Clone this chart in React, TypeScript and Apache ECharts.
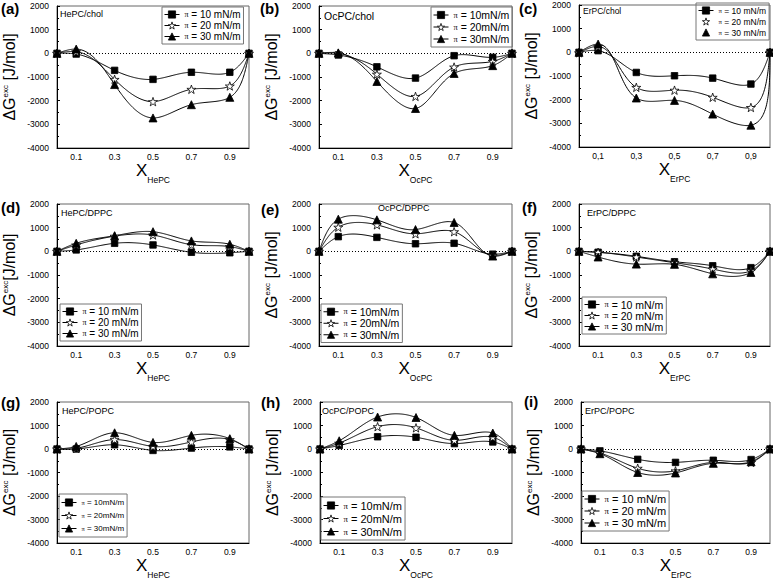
import React, { useEffect, useRef } from 'react';
import * as echarts from 'echarts';

// ---------- data ----------
const X_VALUES = [0, 0.1, 0.3, 0.5, 0.7, 0.9, 1.0];
const X_TICK_LABELS = ['0.1', '0.3', '0.5', '0.7', '0.9'];
const X_TICK_LABELS_COMMA = ['0,1', '0,3', '0,5', '0,7', '0,9'];
const Y_MIN = -4000;
const Y_MAX = 2000;

const NAMES_SPACED = ['π = 10 mN/m', 'π = 20 mN/m', 'π = 30 mN/m'];
const NAMES_TIGHT = ['π = 10mN/m', 'π = 20mN/m', 'π = 30mN/m'];

// (a) HePC/chol
const A_10 = [0, -30, -720, -1100, -800, -800, 0];
const A_20 = [0, 70, -1100, -2040, -1520, -1380, 0];
const A_30 = [0, 180, -1320, -2730, -2170, -1860, 0];
// (b) OcPC/chol
const B_10 = [0, -70, -570, -1045, -100, -170, 0];
const B_20 = [0, 0, -880, -1820, -580, -340, 0];
const B_30 = [0, 20, -1190, -2330, -850, -520, 0];
// (c) ErPC/chol
const C_10 = [0, 70, -850, -990, -1090, -1340, 0];
const C_20 = [-20, 250, -1480, -1600, -1900, -2330, 0];
const C_30 = [0, 350, -1930, -2030, -2610, -3080, 0];
// (d) HePC/DPPC
const D_10 = [0, 60, 340, 270, -40, -60, 0];
const D_20 = [0, 270, 640, 690, 280, 200, 0];
const D_30 = [0, 340, 660, 830, 440, 300, 0];
// (e) OcPC/DPPC
const E_10 = [0, 620, 590, 320, 340, -120, 0];
const E_20 = [0, 1020, 1120, 740, 830, -170, 0];
const E_30 = [0, 1360, 1330, 920, 1220, -200, 0];
// (f) ErPC/DPPC
const F_10 = [0, -40, -210, -440, -610, -690, 0];
const F_20 = [0, -40, -240, -480, -750, -820, 0];
const F_30 = [0, -240, -540, -550, -950, -890, 0];
// (g) HePC/POPC
const G_10 = [0, 0, 180, -60, 40, 90, 0];
const G_20 = [0, 30, 400, 110, 300, 400, 0];
const G_30 = [0, 110, 690, 280, 580, 440, 0];
// (h) OcPC/POPC
const H_10 = [0, 150, 520, 500, 230, 300, 0];
const H_20 = [0, 250, 950, 900, 370, 500, 0];
const H_30 = [0, 350, 1360, 1340, 580, 680, 0];
// (i) ErPC/POPC
const I_10 = [0, -80, -440, -570, -480, -450, 0];
const I_20 = [0, -170, -820, -930, -570, -570, 0];
const I_30 = [0, -200, -1000, -1020, -610, -540, 0];

// ---------- layout / style ----------
const FONT = '"Liberation Sans", Arial, sans-serif';
const SERIF = '"Liberation Serif", "DejaVu Serif", serif';
const STAR = 'path://M50,0 L61.8,35.1 L98.1,35.1 L68.8,56.7 L79.4,90.9 L50,69.8 L20.6,90.9 L31.2,56.7 L1.9,35.1 L38.2,35.1 Z';
const SYMBOLS = [
  { symbol: 'rect', size: 6.5, fill: '#000' },
  { symbol: STAR, size: 9, fill: '#fff' },
  { symbol: 'triangle', size: 8, fill: '#000' },
];

const PANELS = [
  { letter: '(a)', title: 'HePC/chol', sub: 'HePC', series: [A_10, A_20, A_30], names: NAMES_SPACED,
    grid: { left: 57, top: 6, width: 192, height: 142 }, letterPos: [1, 8], titlePos: [60, 14], titleSize: 9,
    legend: { left: 162, top: 7, lh: 11, fs: 10 }, comma: false, markerOnly: false, ySpace: ' ' },
  { letter: '(b)', title: 'OcPC/chol', sub: 'OcPC', series: [B_10, B_20, B_30], names: NAMES_TIGHT,
    grid: { left: 319, top: 6, width: 193, height: 142 }, letterPos: [260, 8], titlePos: [324, 16], titleSize: 10.5,
    legend: { left: 431, top: 7, lh: 12, fs: 10.5 }, comma: false, markerOnly: false, ySpace: ' ' },
  { letter: '(c)', title: 'ErPC/chol', sub: 'ErPC', series: [C_10, C_20, C_30], names: NAMES_SPACED,
    grid: { left: 579, top: 5, width: 193, height: 142 }, letterPos: [519, 8], titlePos: [583, 11], titleSize: 8.5,
    legend: { left: 696, top: 3, lh: 11, fs: 8.5 }, comma: true, markerOnly: true, ySpace: ' ' },
  { letter: '(d)', title: 'HePC/DPPC', sub: 'HePC', series: [D_10, D_20, D_30], names: NAMES_SPACED,
    grid: { left: 57, top: 204, width: 192, height: 142 }, letterPos: [1, 207], titlePos: [61, 213], titleSize: 9,
    legend: { left: 60, top: 304, lh: 11, fs: 10 }, comma: false, markerOnly: false, ySpace: '' },
  { letter: '(e)', title: 'OcPC/DPPC', sub: 'OcPC', series: [E_10, E_20, E_30], names: NAMES_TIGHT,
    grid: { left: 319, top: 204, width: 193, height: 142 }, letterPos: [261, 209], titlePos: [378, 208], titleSize: 9,
    legend: { left: 321, top: 304, lh: 11.5, fs: 10.5 }, comma: false, markerOnly: false, ySpace: ' ' },
  { letter: '(f)', title: 'ErPC/DPPC', sub: 'ErPC', series: [F_10, F_20, F_30], names: NAMES_SPACED,
    grid: { left: 579, top: 204, width: 193, height: 142 }, letterPos: [522, 207], titlePos: [587, 213], titleSize: 9,
    legend: { left: 582, top: 297, lh: 10.5, fs: 10.5 }, comma: false, markerOnly: false, ySpace: ' ' },
  { letter: '(g)', title: 'HePC/POPC', sub: 'HePC', series: [G_10, G_20, G_30], names: NAMES_TIGHT,
    grid: { left: 57, top: 402, width: 192, height: 141 }, letterPos: [1, 402], titlePos: [62, 411], titleSize: 9,
    legend: { left: 59, top: 494, lh: 13, fs: 8 }, comma: false, markerOnly: false, ySpace: ' ' },
  { letter: '(h)', title: 'OcPC/POPC', sub: 'OcPC', series: [H_10, H_20, H_30], names: NAMES_TIGHT,
    grid: { left: 320, top: 402, width: 192, height: 141 }, letterPos: [261, 402], titlePos: [322, 411], titleSize: 9,
    legend: { left: 321, top: 497, lh: 13, fs: 11 }, comma: false, markerOnly: false, ySpace: ' ' },
  { letter: '(i)', title: 'ErPC/POPC', sub: 'ErPC', series: [I_10, I_20, I_30], names: NAMES_SPACED,
    grid: { left: 581, top: 402, width: 191, height: 141 }, letterPos: [524, 401], titlePos: [585, 411], titleSize: 9,
    legend: { left: 582, top: 491, lh: 12, fs: 11 }, comma: false, markerOnly: false, ySpace: ' ' },
];

// natural cubic spline through knots (ts, vs); used to draw the curve in pixel space
function naturalSpline(ts: number[], vs: number[]) {
  const n = ts.length;
  const h: number[] = [];
  for (let i = 0; i < n - 1; i++) h.push(Math.max(ts[i + 1] - ts[i], 1e-6));
  const M = new Array(n).fill(0);
  const m = n - 2;
  if (m > 0) {
    const a: number[] = [], b: number[] = [], c: number[] = [], d: number[] = [];
    for (let i = 1; i <= m; i++) {
      a.push(h[i - 1]);
      b.push(2 * (h[i - 1] + h[i]));
      c.push(h[i]);
      d.push(6 * ((vs[i + 1] - vs[i]) / h[i] - (vs[i] - vs[i - 1]) / h[i - 1]));
    }
    for (let i = 1; i < m; i++) {
      const w = a[i] / b[i - 1];
      b[i] -= w * c[i - 1];
      d[i] -= w * d[i - 1];
    }
    const sol = new Array(m);
    sol[m - 1] = d[m - 1] / b[m - 1];
    for (let i = m - 2; i >= 0; i--) sol[i] = (d[i] - c[i] * sol[i + 1]) / b[i];
    for (let i = 0; i < m; i++) M[i + 1] = sol[i];
  }
  return (i: number, u: number) => {
    const hi = h[i];
    const A = hi * (1 - u);
    const B = hi * u;
    return (
      (M[i] * A * A * A) / (6 * hi) +
      (M[i + 1] * B * B * B) / (6 * hi) +
      (vs[i] / hi - (M[i] * hi) / 6) * A +
      (vs[i + 1] / hi - (M[i + 1] * hi) / 6) * B
    );
  };
}

function parametricCurve(pts: number[][]) {
  const ts = [0];
  for (let i = 1; i < pts.length; i++) {
    const dx = pts[i][0] - pts[i - 1][0];
    const dy = pts[i][1] - pts[i - 1][1];
    ts.push(ts[i - 1] + Math.sqrt(dx * dx + dy * dy));
  }
  const fx = naturalSpline(ts, pts.map((p) => p[0]));
  const fy = naturalSpline(ts, pts.map((p) => p[1]));
  const out: number[][] = [];
  const per = 40;
  for (let i = 0; i < pts.length - 1; i++) {
    for (let s = 0; s < per; s++) out.push([fx(i, s / per), fy(i, s / per)]);
  }
  out.push(pts[pts.length - 1]);
  return out;
}

function buildOption() {
  const grid: any[] = [];
  const xAxis: any[] = [];
  const yAxis: any[] = [];
  const series: any[] = [];
  const legend: any[] = [];
  const graphic: any[] = [];

  PANELS.forEach((p, k) => {
    grid.push({ ...p.grid, show: true, borderColor: '#666', borderWidth: 1, containLabel: false });
    const tickLabels = p.comma ? X_TICK_LABELS_COMMA : X_TICK_LABELS;
    xAxis.push({
      type: 'value', gridIndex: k, min: 0, max: 1, interval: 0.1,
      axisLine: { show: true, onZero: false, lineStyle: { color: '#000', width: 1 } },
      axisTick: { show: false },
      splitLine: { show: false },
      axisLabel: {
        fontFamily: FONT, fontSize: 8.5, color: '#000', margin: 4,
        formatter: (v: number) => {
          const t = Math.round(v * 10);
          return t % 2 === 1 ? tickLabels[(t - 1) / 2] : '';
        },
      },
      name: `{x|X}{s|${p.sub}}`,
      nameLocation: 'middle',
      nameGap: 7,
      nameTextStyle: {
        rich: {
          x: { fontFamily: FONT, fontSize: 17, color: '#000', lineHeight: 28 },
          s: { fontFamily: FONT, fontSize: 8.5, color: '#000', lineHeight: 8.5, verticalAlign: 'bottom' },
        },
      },
    });
    yAxis.push({
      type: 'value', gridIndex: k, min: Y_MIN, max: Y_MAX, interval: 1000,
      axisLine: { show: true, lineStyle: { color: '#000', width: 1 } },
      axisTick: { show: true, inside: true, length: 3, lineStyle: { color: '#000' } },
      minorTick: { show: true, splitNumber: 2, length: 2, lineStyle: { color: '#000' } },
      splitLine: { show: false },
      axisLabel: { fontFamily: FONT, fontSize: 8.5, color: '#000', margin: 8, formatter: (v: number) => String(v) },
      name: `{d|ΔG}{e|exc}{d|${p.ySpace}[J/mol]}`,
      nameLocation: 'middle',
      nameRotate: 90,
      nameGap: 40,
      nameTextStyle: {
        rich: {
          d: { fontFamily: FONT, fontSize: 16, color: '#000', lineHeight: 16 },
          e: { fontFamily: FONT, fontSize: 8, color: '#000', lineHeight: 8, verticalAlign: 'top' },
        },
      },
    });

    p.series.forEach((vals, j) => {
      series.push({
        type: 'custom',
        name: `curve-${k}-${j}`,
        xAxisIndex: k, yAxisIndex: k,
        silent: true,
        z: 2,
        clip: false,
        data: [[0, 0]],
        renderItem: (params: any, api: any) => {
          const pix = X_VALUES.map((x, i) => api.coord([x, vals[i]]));
          return {
            type: 'polyline',
            shape: { points: parametricCurve(pix) },
            style: { stroke: '#000', lineWidth: 1, fill: 'none' },
          };
        },
      });
      const sym = SYMBOLS[j];
      const s: any = {
        type: 'line',
        name: p.names[j],
        xAxisIndex: k, yAxisIndex: k,
        data: X_VALUES.map((x, i) => [x, vals[i]]),
        symbol: sym.symbol,
        symbolSize: sym.size,
        symbolKeepAspect: true,
        showSymbol: true,
        showAllSymbol: true,
        lineStyle: { width: 0 },
        itemStyle: { color: sym.fill, borderColor: '#000', borderWidth: 0.8 },
        z: 3,
        silent: true,
      };
      if (j === 0) {
        s.markLine = {
          silent: true,
          symbol: ['none', 'none'],
          label: { show: false },
          lineStyle: { type: [1, 2], color: '#000', width: 1 },
          data: [{ yAxis: 0 }],
          z: 1,
        };
      }
      series.push(s);
    });

    const L = p.legend;
    legend.push({
      orient: 'vertical',
      left: L.left, top: L.top,
      padding: [2, 3, 2, 2],
      itemGap: 0,
      itemWidth: 15,
      itemHeight: 9,
      borderColor: '#777',
      borderWidth: 1,
      selectedMode: false,
      data: p.names.map((n, i) => (p.markerOnly && i > 0 ? { name: n, lineStyle: { width: 0, opacity: 0 } } : n)),
      formatter: (n: string) => n.replace('π', '{p|π}'),
      textStyle: {
        fontFamily: FONT, fontSize: L.fs, color: '#000', lineHeight: L.lh,
        rich: { p: { fontFamily: SERIF, fontSize: L.fs * 0.8, color: '#000', lineHeight: L.lh } },
      },
      lineStyle: { width: 1, color: '#000', type: 'solid', opacity: 1 },
      itemStyle: { borderWidth: 0.8, borderColor: '#000' },
    });

    graphic.push({
      type: 'text', x: p.letterPos[0], y: p.letterPos[1],
      style: { text: p.letter, fontFamily: FONT, fontSize: 15, fontWeight: 'bold', fill: '#000', align: 'left', verticalAlign: 'middle' },
    });
    graphic.push({
      type: 'text', x: p.titlePos[0], y: p.titlePos[1],
      style: { text: p.title, fontFamily: FONT, fontSize: p.titleSize, fill: '#000', align: 'left', verticalAlign: 'middle' },
    });
  });

  return { animation: false, backgroundColor: '#fff', grid, xAxis, yAxis, series, legend, graphic };
}

export default function App() {
  const ref = useRef<HTMLDivElement>(null);
  useEffect(() => {
    if (!ref.current) return;
    const chart = echarts.init(ref.current, undefined, { renderer: 'svg' });
    chart.setOption(buildOption() as any);
    return () => chart.dispose();
  }, []);
  return <div ref={ref} style={{ position: 'absolute', left: 0, top: 0, width: 773, height: 583 }} />;
}
